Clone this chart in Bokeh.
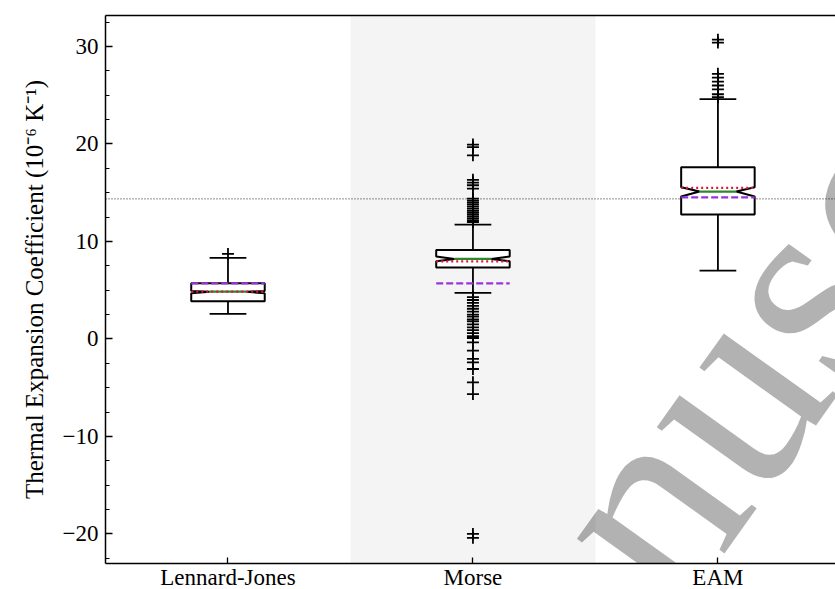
from bokeh.plotting import figure
from bokeh.models import FixedTicker, LinearAxis, Range1d, BoxAnnotation, Span, ColumnDataSource, Label
from bokeh.embed import file_html
from bokeh.resources import INLINE

# ---------------- data ----------------
categories = ["Lennard-Jones", "Morse", "EAM"]
positions = [1, 2, 3]
q1 = [3.86, 7.32, 12.76]
q3 = [5.71, 9.13, 17.61]
medians = [4.85, 8.21, 15.12]
notch_lo = [4.68, 7.97, 14.62]
notch_hi = [4.92, 8.45, 15.56]
whisker_lo = [2.57, 4.72, 7.01]
whisker_hi = [8.31, 11.73, 24.60]
means = [4.85, 7.97, 15.50]          # red dotted line
reference_vals = [5.71, 5.71, 14.53]  # purple dashed line
hline_value = 14.37                   # black dotted horizontal line

fliers_lj = [8.72]
fliers_morse = [19.94, 19.67, 18.84, 16.32, 16.04, 15.77, 15.43, 14.4,
                14.2, 14.0, 13.8, 13.6, 13.4, 13.2, 13.0, 12.8, 12.6, 12.4, 12.2, 12.0,
                4.3, 4.0, 3.7, 3.4, 3.1, 2.8, 2.5, 2.3, 2.0, 1.8, 1.5, 1.2, 0.9, 0.6,
                0.3, 0.1, -0.35, -1.2, -2.05, -2.4, -3.08, -4.45, -5.65, -20.0, -20.4]
fliers_eam = [30.7, 30.4, 27.2, 26.8, 26.4, 26.0, 25.6, 25.1, 24.8]

y_major = [-20, -10, 0, 10, 20, 30]
y_labels = {-20: "\u221220", -10: "\u221210", 0: "0", 10: "10", 20: "20", 30: "30"}
y_minor = [-22.5 + 2.5 * i for i in range(23)]

# ---------------- figure ----------------
FONT = "Liberation Serif"
p = figure(frame_width=730, frame_height=548, output_backend="svg", toolbar_location=None,
           x_range=Range1d(0.5, 3.48), y_range=Range1d(-23.03, 33.18),
           min_border_left=105, min_border_right=0, min_border_top=15, min_border_bottom=0,
           background_fill_color="white", border_fill_color="white")
p.outline_line_color = None
p.xgrid.visible = False
p.ygrid.visible = False

half_w = 0.15
notch_w = 0.075
cap_w = 0.075

# Morse background band
band = BoxAnnotation(left=positions[1] - 0.5, right=positions[1] + 0.5,
                     fill_color="#f4f4f4", fill_alpha=1.0, line_color=None, level="underlay")
p.add_layout(band)
p.add_layout(Span(location=hline_value, dimension="width", line_color="black",
                  line_width=0.9, line_dash="1 2", level="underlay"))

# whiskers
wsrc = ColumnDataSource(dict(
    x=positions + positions,
    y0=q3 + q1,
    y1=whisker_hi + whisker_lo,
    xl=[c - cap_w for c in positions] * 2,
    xr=[c + cap_w for c in positions] * 2,
))
p.segment(x0="x", y0="y0", x1="x", y1="y1", source=wsrc, line_color="black", line_width=1.8)
p.segment(x0="xl", y0="y1", x1="xr", y1="y1", source=wsrc, line_color="black", line_width=1.8)

# notched boxes
xs, ys = [], []
for c, a, b, lo, md, hi in zip(positions, q1, q3, notch_lo, medians, notch_hi):
    xs.append([c - half_w, c + half_w, c + half_w, c + notch_w, c + half_w, c + half_w,
               c - half_w, c - half_w, c - notch_w, c - half_w, c - half_w])
    ys.append([a, a, lo, md, hi, b, b, hi, md, lo, a])
p.patches(xs, ys, fill_color="white", line_color="black", line_width=2)

# fliers
fx = [positions[0]] * len(fliers_lj) + [positions[1]] * len(fliers_morse) + [positions[2]] * len(fliers_eam)
fy = fliers_lj + fliers_morse + fliers_eam
p.scatter(fx, fy, marker="cross", size=12, line_color="black", line_width=1.8)

# median / mean / reference lines
p.segment(x0=[c - notch_w for c in positions], y0=medians, x1=[c + notch_w for c in positions], y1=medians,
          line_color="#2a8a2a", line_width=2.2)
p.segment(x0=[c - half_w for c in positions], y0=means, x1=[c + half_w for c in positions], y1=means,
          line_color="#e0153f", line_width=2.2, line_dash="2 3")
p.segment(x0=[c - half_w for c in positions], y0=reference_vals, x1=[c + half_w for c in positions],
          y1=reference_vals, line_color="#9933dd", line_width=2.2, line_dash="7 3")

# ---------------- axes ----------------
yax = p.yaxis[0]
yax.ticker = FixedTicker(ticks=y_major, minor_ticks=y_minor)
yax.major_label_overrides = y_labels
yax.major_tick_in = 7
yax.major_tick_out = 0
yax.minor_tick_in = 4
yax.minor_tick_out = 0
yax.major_tick_line_width = 1.5
yax.minor_tick_line_width = 1.2
yax.axis_line_width = 1.5
yax.major_label_text_font = FONT
yax.major_label_text_font_size = "23px"
yax.major_label_text_color = "black"
yax.major_label_standoff = 7
yax.axis_label = "Thermal Expansion Coefficient (10\u207b\u2076 K\u207b\u00b9)"
yax.axis_label_text_font = FONT
yax.axis_label_text_font_size = "25px"
yax.axis_label_text_font_style = "normal"
yax.axis_label_text_color = "black"
yax.axis_label_standoff = 12

xax = p.xaxis[0]
xax.ticker = FixedTicker(ticks=positions, minor_ticks=[])
xax.major_label_overrides = {pos: name for pos, name in zip(positions, categories)}
xax.major_tick_in = 6
xax.major_tick_out = 0
xax.major_tick_line_width = 1.3
xax.axis_line_width = 1.5
xax.major_label_text_font = FONT
xax.major_label_text_font_size = "23px"
xax.major_label_text_color = "black"
xax.major_label_standoff = 1

top = LinearAxis(ticker=FixedTicker(ticks=[], minor_ticks=[]), axis_line_width=1.5,
                 major_tick_in=0, major_tick_out=0, minor_tick_in=0, minor_tick_out=0,
                 major_label_standoff=0)
p.add_layout(top, "above")

# watermark
wm = Label(x=3.15, y=-1.0, text="Manuscript", angle=0.95, text_font=FONT,
           text_font_size="280px", text_color="black", text_alpha=0.3,
           text_align="center", text_baseline="middle")
p.add_layout(wm)

open("out.html", "w").write(file_html(p, INLINE))
